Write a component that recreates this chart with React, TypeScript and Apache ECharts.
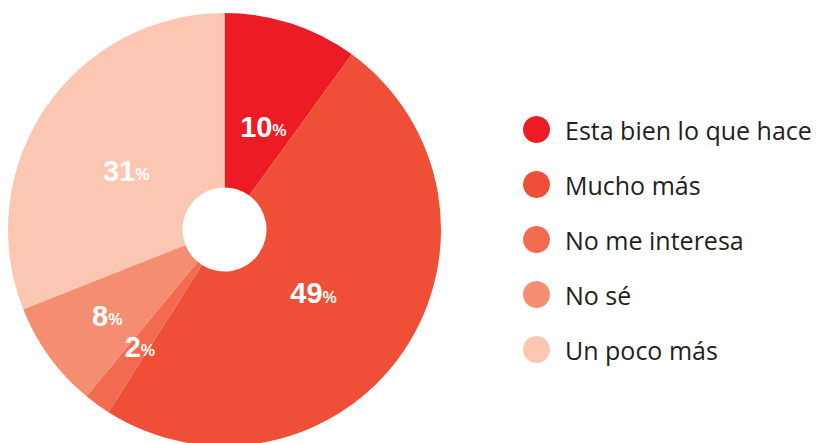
import React, { useEffect, useRef } from "react";
import * as echarts from "echarts";

const categories = ["Esta bien lo que hace", "Mucho más", "No me interesa", "No sé", "Un poco más"];
const values = [10, 49, 2, 8, 31];
const colors = ["#ED1C24", "#EF4E37", "#F26B50", "#F58E70", "#FBC7B2"];
const labelRadius = [111, 109, 144, 145, 115];
const labelAngleShift = [2.5, 1, 0, 0, -3];

const CX = 224.5;
const CY = 229.5;
const R = 216.5;
const R0 = 42;

export default function App() {
  const ref = useRef<HTMLDivElement>(null);
  useEffect(() => {
    document.body.style.margin = "0";
    const chart = echarts.init(ref.current!, null, { renderer: "svg" });
    chart.setOption({
      animation: false,
      backgroundColor: "#ffffff",
      legend: {
        orient: "vertical",
        left: 518,
        top: 111,
        icon: "circle",
        itemWidth: 27,
        itemHeight: 27,
        itemGap: 28,
        data: categories,
        textStyle: {
          fontFamily: "Open Sans",
          fontSize: 25,
          color: "#231F20",
          padding: [0, 0, 0, 10],
        },
      },
      series: [
        {
          type: "pie",
          center: [CX, CY],
          radius: [R0, R],
          startAngle: 90,
          clockwise: true,
          avoidLabelOverlap: false,
          itemStyle: { borderWidth: 0 },
          label: {
            show: true,
            position: "inside",
            formatter: (p: any) => `{n|${p.value}}{p|%}`,
            rich: {
              n: { fontFamily: "Liberation Sans", fontWeight: "bold", fontSize: 29, color: "#ffffff" },
              p: { fontFamily: "Liberation Sans", fontWeight: "bold", fontSize: 16, color: "#ffffff", padding: [8, 0, 0, 0] },
            },
          },
          labelLine: { show: false },
          labelLayout: (p: any) => {
            const lr = p.labelRect;
            const lx = lr.x + lr.width / 2;
            const ly = lr.y + lr.height / 2;
            const dx = lx - CX;
            const dy = ly - CY;
            const a = Math.atan2(dy, dx) + (labelAngleShift[p.dataIndex] * Math.PI) / 180;
            const r = labelRadius[p.dataIndex];
            const tx = CX + r * Math.cos(a);
            const ty = CY + r * Math.sin(a) + 1;
            return { dx: tx - lx, dy: ty - ly };
          },
          emphasis: { disabled: true },
          data: categories.map((c, i) => ({ name: c, value: values[i], itemStyle: { color: colors[i] } })),
        },
      ],
    });
    return () => chart.dispose();
  }, []);
  return <div ref={ref} style={{ position: "absolute", left: 0, top: 0, width: 817, height: 443 }} />;
}
